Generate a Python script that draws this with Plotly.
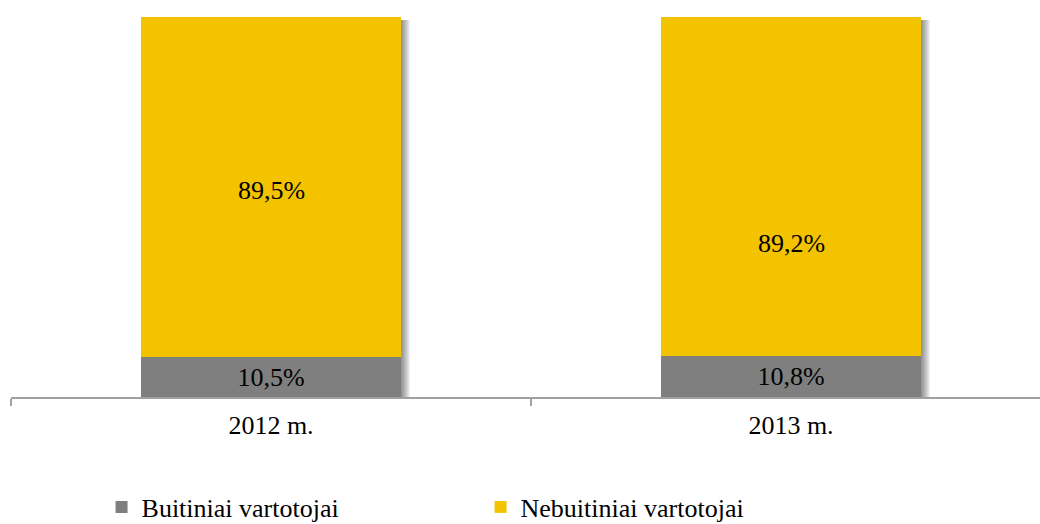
import plotly.graph_objects as go

# Consumer share by year, percent
years = ["2012 m.", "2013 m."]
buitiniai = [10.5, 10.8]
nebuitiniai = [89.5, 89.2]

series_names = ["Buitiniai vartotojai", "Nebuitiniai vartotojai"]
colors = ["#7F7F7F", "#F3C300"]

FONT = "Liberation Serif, Times New Roman, serif"
W, H = 1040, 524
ML, MR, MT, MB = 11, 0, 17, 127
CAT_PX = 520  # pixel width of one category slot
BAR_FRAC = 0.5
upper_label_shift = [-3, -57]  # pixel nudge of the upper segment labels

fig = go.Figure()
fig.add_trace(go.Bar(
    x=years, y=buitiniai, name=series_names[0],
    marker=dict(color=colors[0], line=dict(width=0)),
    texttemplate="%{y:.1f}%",
    textposition="inside",
    insidetextanchor="middle",
    textfont=dict(family=FONT, size=26, color="#000000"),
))
fig.add_trace(go.Bar(
    x=years, y=nebuitiniai, name=series_names[1],
    marker=dict(color=colors[1], line=dict(width=0)),
    hovertemplate="%{y:.1f}%",
))

# labels for the upper segments
annotations = []
for i, (a, b) in enumerate(zip(buitiniai, nebuitiniai)):
    annotations.append(dict(
        x=years[i], y=a + b / 2, xref="x", yref="y",
        text=f"{b:.1f}%".replace(".", ","), showarrow=False,
        yshift=upper_label_shift[i],
        font=dict(family=FONT, size=26, color="#000000"),
    ))

# soft drop shadow along the right and bottom edges of each stacked bar
plot_w = W - ML - MR
x_hi = -0.5 + plot_w / CAT_PX
px = 1.0 / CAT_PX
shapes = []
steps = 9
for i, (a, b) in enumerate(zip(buitiniai, nebuitiniai)):
    right = i + BAR_FRAC / 2
    total = a + b
    for k in range(steps):
        w = (k + 1) * px
        shapes.append(dict(
            type="rect", xref="x", yref="y", layer="below",
            x0=right, x1=right + w,
            y0=-0.6 * (k + 1) / steps * 2, y1=total - 0.8,
            fillcolor="rgba(0,0,0,0.055)", line=dict(width=0),
        ))
    for k in range(3):
        shapes.append(dict(
            type="rect", xref="x", yref="y", layer="below",
            x0=i - BAR_FRAC / 2 + 2 * px, x1=right + (k + 1) * px,
            y0=-(k + 1) * 0.28, y1=0,
            fillcolor="rgba(0,0,0,0.06)", line=dict(width=0),
        ))

fig.update_layout(
    width=W, height=H, autosize=False,
    margin=dict(l=ML, r=MR, t=MT, b=MB, pad=0, autoexpand=False),
    barmode="stack",
    bargap=1 - BAR_FRAC,
    separators=",.",
    plot_bgcolor="white", paper_bgcolor="white",
    font=dict(family=FONT, size=26, color="#000000"),
    uniformtext=dict(minsize=26, mode="show"),
    shapes=shapes,
    annotations=annotations,
    showlegend=True,
    legend=dict(
        orientation="h", x=0.088, xanchor="left",
        yref="container", y=1 - 507 / H, yanchor="middle",
        entrywidth=334, entrywidthmode="pixels",
        font=dict(family=FONT, size=26, color="#000000"),
        itemsizing="constant", traceorder="normal",
    ),
    xaxis=dict(
        type="category", range=[-0.5, x_hi],
        showline=True, linecolor="#A0A0A0", linewidth=2,
        ticks="outside", tickson="boundaries", ticklen=7, tickwidth=2, tickcolor="#A0A0A0",
        ticklabelstandoff=4,
        showgrid=False, zeroline=False,
        tickfont=dict(family=FONT, size=26, color="#000000"),
    ),
    yaxis=dict(range=[0, 100], visible=False, showgrid=False, zeroline=False),
)

fig.write_html("out.html")
